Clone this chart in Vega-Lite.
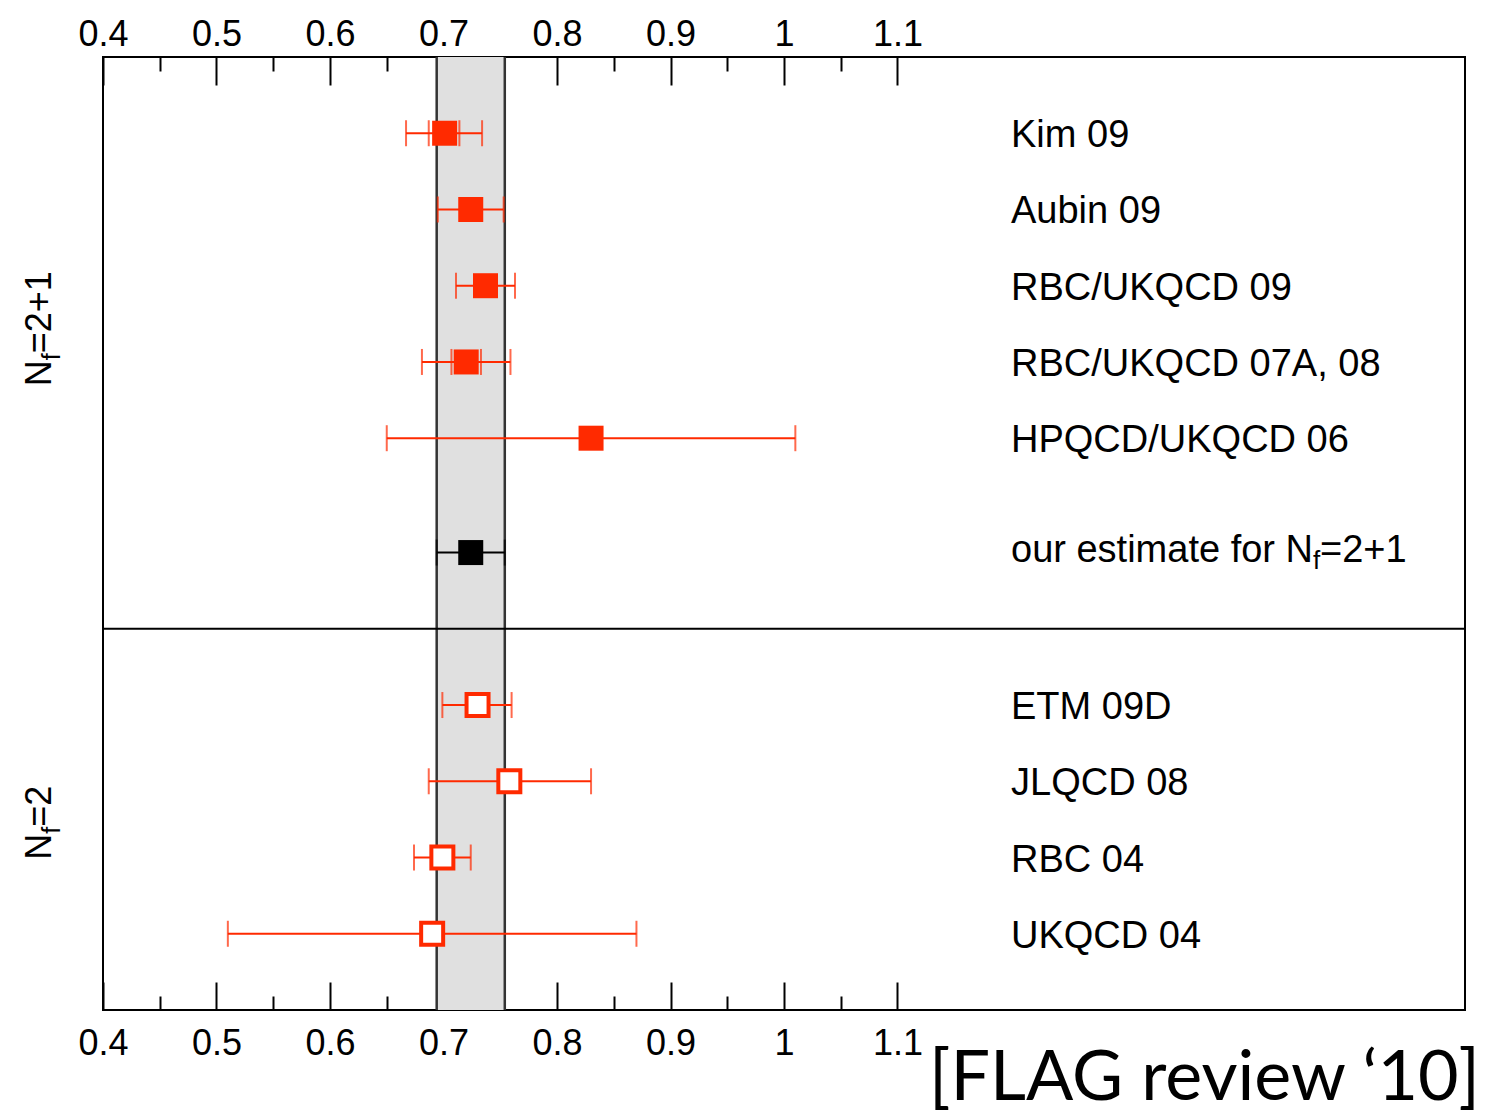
{
  "$schema": "https://vega.github.io/schema/vega-lite/v6.json",
  "width": 1362,
  "height": 953,
  "autosize": {"type": "none"},
  "padding": {"left": 103, "top": 57, "right": 44, "bottom": 105},
  "background": "white",
  "config": {
    "view": {"stroke": "black", "strokeWidth": 2},
    "font": "Liberation Sans"
  },
  "datasets": {
    "results": [
      {"label": "Kim 09", "kind": "lattice", "marker": "filled", "pos": 11.5, "val": 0.701, "lo": 0.667, "hi": 0.734, "ilo": 0.687, "ihi": 0.714},
      {"label": "Aubin 09", "kind": "lattice", "marker": "filled", "pos": 10.5, "val": 0.724, "lo": 0.695, "hi": 0.753},
      {"label": "RBC/UKQCD 09", "kind": "lattice", "marker": "filled", "pos": 9.5, "val": 0.737, "lo": 0.711, "hi": 0.763},
      {"label": "RBC/UKQCD 07A, 08", "kind": "lattice", "marker": "filled", "pos": 8.5, "val": 0.720, "lo": 0.681, "hi": 0.759, "ilo": 0.707, "ihi": 0.733},
      {"label": "HPQCD/UKQCD 06", "kind": "lattice", "marker": "filled", "pos": 7.5, "val": 0.830, "lo": 0.650, "hi": 1.010},
      {"label": "our estimate for N", "sub": "f", "post": "=2+1", "kind": "estimate", "marker": "filled", "pos": 6, "val": 0.724, "lo": 0.694, "hi": 0.754},
      {"label": "ETM 09D", "kind": "lattice", "marker": "open", "pos": 4, "val": 0.730, "lo": 0.699, "hi": 0.760},
      {"label": "JLQCD 08", "kind": "lattice", "marker": "open", "pos": 3, "val": 0.758, "lo": 0.687, "hi": 0.830},
      {"label": "RBC 04", "kind": "lattice", "marker": "open", "pos": 2, "val": 0.699, "lo": 0.674, "hi": 0.724},
      {"label": "UKQCD 04", "kind": "lattice", "marker": "open", "pos": 1, "val": 0.690, "lo": 0.510, "hi": 0.870}
    ],
    "groups": [
      {"pre": "N", "sub": "f", "post": "=2+1", "gpos": 8.18},
      {"pre": "N", "sub": "f", "post": "=2", "gpos": 1.97}
    ],
    "band": [{"blo": 0.694, "bhi": 0.754}],
    "edges": [{"edge": 0.694}, {"edge": 0.754}],
    "divider": [{"split": 5}],
    "note": [{"note": "[FLAG review ‘10]", "nx": 1.6, "ny": 0}]
  },
  "layer": [
    {
      "data": {"name": "band"},
      "mark": {"type": "rect", "fill": "#e0e0e0"},
      "encoding": {
        "x": {
          "field": "blo", "type": "quantitative", "title": null,
          "scale": {"domain": [0.4, 1.6], "nice": false, "zero": false},
          "axis": {
            "orient": "bottom", "title": null,
            "values": [0.4, 0.45, 0.5, 0.55, 0.6, 0.65, 0.7, 0.75, 0.8, 0.85, 0.9, 0.95, 1.0, 1.05, 1.1],
            "labelExpr": "round(datum.value*20) % 2 == 1 ? '' : '' + round(datum.value*10)/10",
            "tickSize": {"condition": {"test": "round(datum.value*20) % 2 == 1", "value": -14}, "value": -28},
            "labelPadding": 44, "domain": false, "grid": false,
            "labelFontSize": 36, "labelFont": "Liberation Sans", "labelColor": "black",
            "tickColor": "black", "tickWidth": 2, "labelFlush": false, "labelOverlap": false
          }
        },
        "x2": {"field": "bhi"}
      }
    },
    {
      "data": {"name": "edges"},
      "mark": {"type": "rule", "stroke": "#333333", "strokeWidth": 2.5},
      "encoding": {
        "x": {
          "field": "edge", "type": "quantitative", "title": null,
          "axis": {
            "orient": "top", "title": null,
            "values": [0.4, 0.45, 0.5, 0.55, 0.6, 0.65, 0.7, 0.75, 0.8, 0.85, 0.9, 0.95, 1.0, 1.05, 1.1],
            "labelExpr": "round(datum.value*20) % 2 == 1 ? '' : '' + round(datum.value*10)/10",
            "tickSize": {"condition": {"test": "round(datum.value*20) % 2 == 1", "value": -14}, "value": -28},
            "labelPadding": 32, "domain": false, "grid": false,
            "labelFontSize": 36, "labelFont": "Liberation Sans", "labelColor": "black",
            "tickColor": "black", "tickWidth": 2, "labelFlush": false, "labelOverlap": false
          }
        }
      }
    },
    {
      "data": {"name": "divider"},
      "mark": {"type": "rule", "stroke": "black", "strokeWidth": 2},
      "encoding": {
        "y": {"field": "split", "type": "quantitative", "scale": {"domain": [0, 12.5], "nice": false, "zero": false}, "axis": null}
      }
    },
    {
      "data": {"name": "results"},
      "mark": {"type": "rule", "strokeWidth": 2},
      "encoding": {
        "x": {"field": "lo", "type": "quantitative", "axis": null},
        "x2": {"field": "hi"},
        "y": {"field": "pos", "type": "quantitative", "axis": null},
        "color": {"field": "kind", "type": "nominal", "scale": {"domain": ["lattice", "estimate"], "range": ["#ff2a00", "#000000"]}, "legend": null}
      }
    },
    {
      "data": {"name": "results"},
      "mark": {"type": "tick", "orient": "vertical", "size": 26, "thickness": 2},
      "encoding": {
        "x": {"field": "lo", "type": "quantitative", "axis": null},
        "y": {"field": "pos", "type": "quantitative", "axis": null},
        "color": {"field": "kind", "type": "nominal", "legend": null}
      }
    },
    {
      "data": {"name": "results"},
      "mark": {"type": "tick", "orient": "vertical", "size": 26, "thickness": 2},
      "encoding": {
        "x": {"field": "hi", "type": "quantitative", "axis": null},
        "y": {"field": "pos", "type": "quantitative", "axis": null},
        "color": {"field": "kind", "type": "nominal", "legend": null}
      }
    },
    {
      "data": {"name": "results"},
      "transform": [{"filter": "isValid(datum.ilo)"}],
      "mark": {"type": "tick", "orient": "vertical", "size": 26, "thickness": 2},
      "encoding": {
        "x": {"field": "ilo", "type": "quantitative", "axis": null},
        "y": {"field": "pos", "type": "quantitative", "axis": null},
        "color": {"field": "kind", "type": "nominal", "legend": null}
      }
    },
    {
      "data": {"name": "results"},
      "transform": [{"filter": "isValid(datum.ihi)"}],
      "mark": {"type": "tick", "orient": "vertical", "size": 26, "thickness": 2},
      "encoding": {
        "x": {"field": "ihi", "type": "quantitative", "axis": null},
        "y": {"field": "pos", "type": "quantitative", "axis": null},
        "color": {"field": "kind", "type": "nominal", "legend": null}
      }
    },
    {
      "data": {"name": "results"},
      "transform": [{"filter": "datum.marker == 'filled'"}],
      "mark": {"type": "point", "shape": "square", "filled": true, "size": 625, "opacity": 1},
      "encoding": {
        "x": {"field": "val", "type": "quantitative", "axis": null},
        "y": {"field": "pos", "type": "quantitative", "axis": null},
        "color": {"field": "kind", "type": "nominal", "legend": null}
      }
    },
    {
      "data": {"name": "results"},
      "transform": [{"filter": "datum.marker == 'open'"}],
      "mark": {"type": "point", "shape": "square", "filled": true, "fill": "white", "stroke": "#ff2a00", "strokeWidth": 4, "size": 484, "opacity": 1},
      "encoding": {
        "x": {"field": "val", "type": "quantitative", "axis": null},
        "y": {"field": "pos", "type": "quantitative", "axis": null}
      }
    },
    {
      "data": {"name": "results"},
      "transform": [{"filter": "datum.kind == 'lattice'"}],
      "mark": {"type": "text", "align": "left", "baseline": "middle", "fontSize": 38, "dy": 3, "color": "black", "font": "Liberation Sans"},
      "encoding": {
        "x": {"datum": 1.2, "type": "quantitative", "axis": null},
        "y": {"field": "pos", "type": "quantitative", "axis": null},
        "text": {"field": "label"}
      }
    },
    {
      "data": {"name": "results"},
      "transform": [{"filter": "datum.kind == 'estimate'"}],
      "mark": {"type": "text", "align": "left", "baseline": "middle", "fontSize": 38, "dy": -2, "color": "black", "font": "Liberation Sans"},
      "encoding": {
        "x": {"datum": 1.2, "type": "quantitative", "axis": null},
        "y": {"field": "pos", "type": "quantitative", "axis": null},
        "text": {"field": "label"}
      }
    },
    {
      "data": {"name": "results"},
      "transform": [{"filter": "datum.kind == 'estimate'"}],
      "mark": {"type": "text", "align": "left", "baseline": "middle", "fontSize": 26, "dy": 8, "dx": 302, "color": "black", "font": "Liberation Sans"},
      "encoding": {
        "x": {"datum": 1.2, "type": "quantitative", "axis": null},
        "y": {"field": "pos", "type": "quantitative", "axis": null},
        "text": {"field": "sub"}
      }
    },
    {
      "data": {"name": "results"},
      "transform": [{"filter": "datum.kind == 'estimate'"}],
      "mark": {"type": "text", "align": "left", "baseline": "middle", "fontSize": 38, "dy": -2, "dx": 309, "color": "black", "font": "Liberation Sans"},
      "encoding": {
        "x": {"datum": 1.2, "type": "quantitative", "axis": null},
        "y": {"field": "pos", "type": "quantitative", "axis": null},
        "text": {"field": "post"}
      }
    },
    {
      "data": {"name": "groups"},
      "mark": {"type": "text", "align": "left", "baseline": "alphabetic", "angle": 270, "fontSize": 36, "dy": -52, "color": "black", "font": "Liberation Sans"},
      "encoding": {
        "x": {"datum": 0.4, "type": "quantitative", "axis": null},
        "y": {"field": "gpos", "type": "quantitative", "axis": null},
        "text": {"field": "pre"}
      }
    },
    {
      "data": {"name": "groups"},
      "mark": {"type": "text", "align": "left", "baseline": "alphabetic", "angle": 270, "fontSize": 25, "dy": -43, "dx": 26, "color": "black", "font": "Liberation Sans"},
      "encoding": {
        "x": {"datum": 0.4, "type": "quantitative", "axis": null},
        "y": {"field": "gpos", "type": "quantitative", "axis": null},
        "text": {"field": "sub"}
      }
    },
    {
      "data": {"name": "groups"},
      "mark": {"type": "text", "align": "left", "baseline": "alphabetic", "angle": 270, "fontSize": 36, "dy": -52, "dx": 33, "color": "black", "font": "Liberation Sans"},
      "encoding": {
        "x": {"datum": 0.4, "type": "quantitative", "axis": null},
        "y": {"field": "gpos", "type": "quantitative", "axis": null},
        "text": {"field": "post"}
      }
    },
    {
      "data": {"name": "note"},
      "mark": {"type": "text", "align": "right", "baseline": "alphabetic", "fontSize": 70, "dx": 15, "dy": 90, "color": "black", "font": "Lato"},
      "encoding": {
        "x": {"field": "nx", "type": "quantitative", "axis": null},
        "y": {"field": "ny", "type": "quantitative", "axis": null},
        "text": {"field": "note"}
      }
    }
  ]
}
